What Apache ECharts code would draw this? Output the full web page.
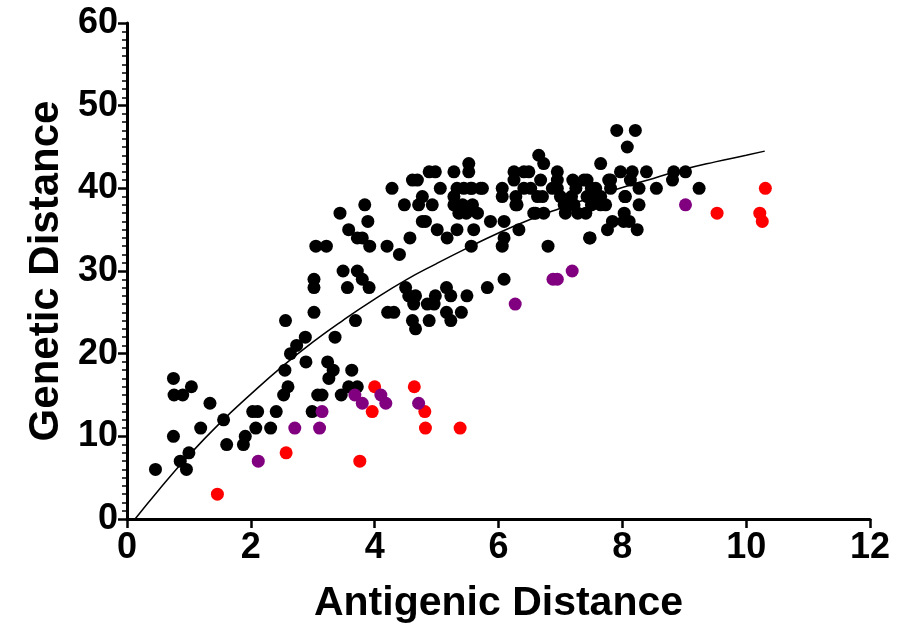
<!DOCTYPE html>
<html>
<head>
<meta charset="utf-8">
<script src="https://cdn.jsdelivr.net/npm/echarts@6/dist/echarts.min.js"></script>
<style>html,body{margin:0;padding:0;background:#fff}#c{width:918px;height:624px}</style>
</head>
<body>
<div id="c"></div>
<script>
// Black points: [antigenic distance, genetic distance]
const blackPoints = [
[0.46,6],[0.75,17],[0.76,15],[0.9,15],[1.04,16],[1.34,14],[0.75,10],[0.86,7],[1.0,8],[0.96,6],[1.19,11],[1.56,12],[1.61,9],[1.88,9],[1.91,10],[2.03,13],[2.11,13],[2.08,11],[2.32,11],[2.41,13],[2.53,15],[2.6,16],[2.55,18],[2.64,20],[2.74,21],[2.89,19],[2.99,13],[3.08,15],[3.15,15],[3.24,19],[3.33,18],[3.26,17],[3.46,15],[3.63,18],[3.58,16],[3.72,16],[2.88,22],[3.36,22],
[2.56,24],[3.69,24],[3.02,25],[4.21,25],[4.31,25],[3.02,28],[3.02,29],[3.49,30],[3.56,28],[3.72,30],[3.80,29],[3.91,28],[3.05,33],[3.22,33],[3.58,35],[3.72,34],[3.80,34],[3.92,33],[3.44,37],[3.84,38],[3.89,36],[4.20,33],[4.40,32],[4.57,34],[4.28,40],[4.48,38],[4.61,41],[4.69,41],[4.77,39],[4.71,38],[4.93,38],[4.77,36],[4.82,36],[5.01,35],[5.17,34],[5.33,35],[5.06,40],[4.88,42],[4.98,42],[5.28,42],[5.52,43],[5.52,42],[5.60,35],[5.56,33],[5.48,37],
[4.50,28],[4.55,27],[4.66,27],[4.63,26],[4.61,24],[4.66,23],[4.88,24],[4.85,26],[4.96,26],[4.98,27],[5.16,28],[5.23,27],[5.16,25],[5.23,24],[5.40,25],[5.49,27],[5.82,28],[6.09,29],
[5.28,39],[5.28,38],[5.33,40],[5.44,40],[5.57,40],[5.71,40],[5.36,37],[5.42,38],[5.58,38],
[6.06,33],[6.09,34],[6.33,35],[6.80,33],[7.48,34],[7.76,35],[7.84,36],[8.03,37],[8.11,36],[8.24,35],[8.27,38],[8.27,40],[8.08,45],[7.91,47],[8.21,47],[7.65,43],[7.97,42],[8.16,42],[8.39,42],[7.81,41],[8.13,41],[8.04,39],
[6.65,44],[6.73,43],[6.95,42],[6.25,42],[6.41,42],[6.49,42],[6.68,41],[7.38,41],[7.43,41],[7.57,40],[5.74,40],[5.55,40],[5.66,37],[5.87,36],[6.09,36],[6.30,38],[6.57,37],[6.73,37],[6.71,39],[6.87,40],[7.0,39],[7.06,38],[7.08,37],[7.41,37],[7.65,39],[7.73,38],[7.81,40],
[6.06,40],[6.06,39],[6.25,41],[6.41,40],[6.52,40],[6.63,39],[6.28,39],[6.28,38],[6.60,37],[6.95,41],[6.95,40],
[7.2,41],[7.25,40],[7.18,39],[7.22,38],[7.28,37],[7.43,39],[7.5,40],[7.5,38],[7.55,39],
[7.78,41],[8.05,39],[7.65,38],[8.55,40],[8.83,42],[9.02,42],[8.81,41],[9.24,40],[8.02,36],[7.47,34]
];
const redPoints = [[1.46,3],[2.57,8],[3.76,7],[4.0,16],[3.96,13],[4.64,16],[4.81,13],[4.82,11],[5.38,11],[9.53,37],[10.22,37],[10.26,36],[10.31,40]];
const purplePoints = [[2.12,7],[2.71,11],[3.11,11],[3.15,13],[3.68,15],[3.80,14],[4.10,15],[4.18,14],[4.71,14],[6.27,26],[6.88,29],[6.95,29],[7.19,30],[9.02,38]];
// Fitted curve
const curveX = [0.13,0.5,1,1.5,2,2.5,3,3.5,4,4.5,5,5.5,6,6.5,7,7.5,8,8.5,9,9.5,10,10.3];
const curveY = [0,3.4,7.7,11.6,15.1,18.4,21.4,24.1,26.6,28.9,30.9,32.8,34.6,36.2,37.6,38.9,40.1,41.2,42.3,43.2,44.0,44.5];
const xTicks = [0,2,4,6,8,10,12];
const yTicks = [0,10,20,30,40,50,60];

const chart = echarts.init(document.getElementById('c'), null, {renderer:'canvas'});
const font = 'Liberation Sans, Arial, Helvetica, sans-serif';
chart.setOption({
  animation:false,
  backgroundColor:'#fff',
  grid:{left:127, right:48, top:23, bottom:105, containLabel:false, outerBoundsMode:'none'},
  xAxis:{
    type:'value', min:xTicks[0], max:xTicks[xTicks.length-1], interval:2,
    name:'Antigenic Distance', nameLocation:'middle', nameGap:64,
    nameTextStyle:{fontFamily:font, fontWeight:'bold', fontSize:41, color:'#000'},
    axisLine:{show:true, onZero:false, lineStyle:{color:'#000', width:3}},
    axisTick:{show:true, inside:false, length:9, lineStyle:{color:'#000', width:2.5}},
    axisLabel:{fontFamily:font, fontWeight:'bold', fontSize:36, color:'#000', margin:11},
    splitLine:{show:false}
  },
  yAxis:{
    type:'value', min:yTicks[0], max:yTicks[yTicks.length-1], interval:10,
    name:'Genetic Distance', nameLocation:'middle', nameGap:44,
    nameTextStyle:{fontFamily:font, fontWeight:'bold', fontSize:42, color:'#000'},
    axisLine:{show:true, onZero:false, lineStyle:{color:'#000', width:3}},
    axisTick:{show:true, inside:false, length:9, lineStyle:{color:'#000', width:2.5}},
    minorTick:{show:true, splitNumber:10, length:5, lineStyle:{color:'#000', width:1.5}},
    axisLabel:{fontFamily:font, fontWeight:'bold', fontSize:36, color:'#000', margin:9},
    splitLine:{show:false}
  },
  series:[
    {type:'scatter', data:blackPoints, symbol:'circle', symbolSize:13, itemStyle:{color:'#000', opacity:1}, z:2},
    {type:'scatter', data:redPoints, symbol:'circle', symbolSize:13, itemStyle:{color:'#ff0000', opacity:1}, z:3},
    {type:'scatter', data:purplePoints, symbol:'circle', symbolSize:13, itemStyle:{color:'#800080', opacity:1}, z:4},
    {type:'line', data:curveX.map((x,i)=>[x,curveY[i]]), smooth:true, showSymbol:false, symbol:'none',
     lineStyle:{color:'#000', width:1.5}, z:5}
  ]
});
</script>
</body>
</html>
